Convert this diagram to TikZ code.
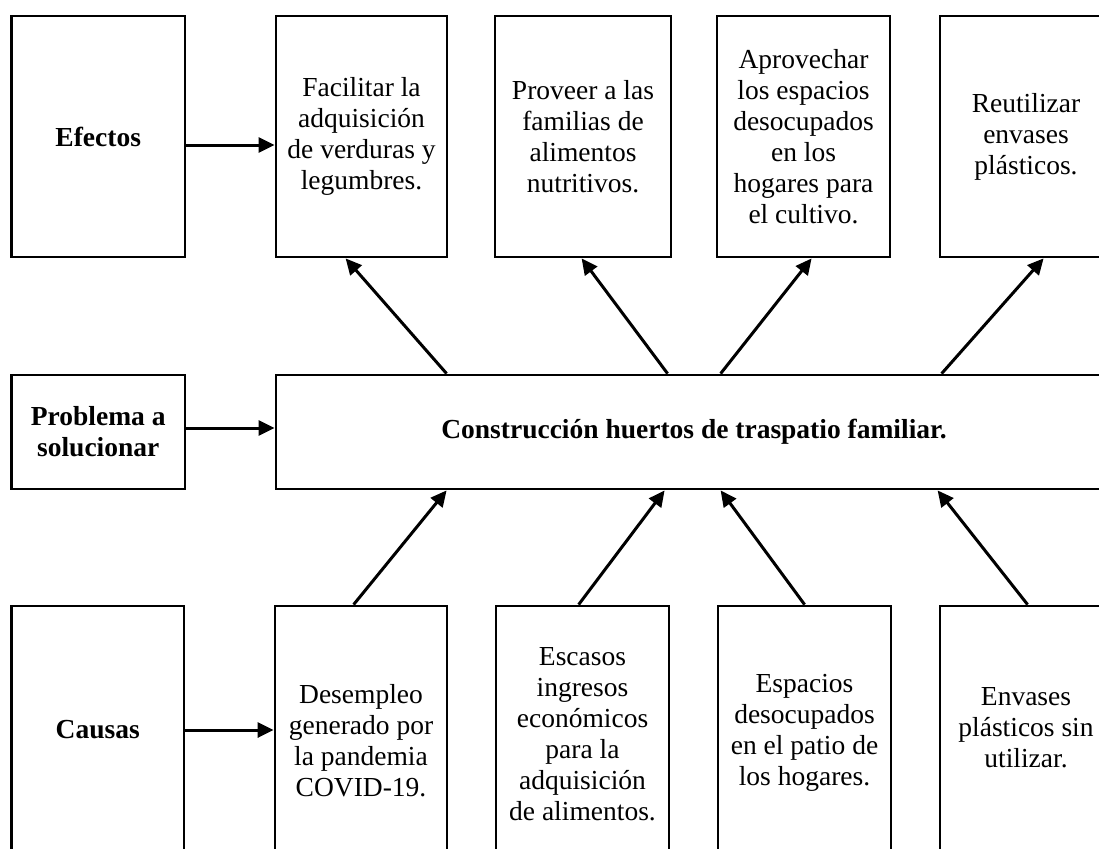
\documentclass[tikz,border=0pt]{standalone}
\usepackage{fontspec}
\setmainfont{Liberation Serif}
\usetikzlibrary{arrows.meta}
\tikzset{
  box/.style={draw=black, line width=2.8pt, fill=white, inner sep=0pt, align=center,
    font=\fontsize{27.5}{31}\selectfont},
  hbox/.style={box, font=\fontsize{27.5}{31}\selectfont\bfseries},
  arr/.style={line width=3pt, -{Triangle[length=16pt,width=15pt]}}
}
\begin{document}
\begin{tikzpicture}[x=1pt,y=-1pt]
\useasboundingbox (0,0) rectangle (1099,848);
\clip (0,0) rectangle (1099,848);
\fill[white] (0,0) rectangle (1099,848);
% top row
\node[hbox, minimum width=173.5pt, minimum height=241pt] (efe) at (98.25,136.5) {Efectos};
\node[box, minimum width=171pt, minimum height=241pt] (fac) at (361.5,136.5) {Facilitar la\\adquisición\\de verduras y\\legumbres.};
\node[box, minimum width=176pt, minimum height=241pt] (pro) at (583,136.5) {Proveer a las\\familias de\\alimentos\\nutritivos.};
\node[box, minimum width=173pt, minimum height=241pt] (apr) at (803.5,136.5) {Aprovechar\\los espacios\\desocupados\\en los\\hogares para\\el cultivo.};
\node[box, minimum width=172pt, minimum height=241pt] (reu) at (1026,136.5) {Reutilizar\\envases\\plásticos.};
% middle row
\node[hbox, minimum width=173.5pt, minimum height=114pt] (prob) at (98.25,432) {Problema a\\solucionar};
\node[hbox, minimum width=836pt, minimum height=114pt] (main) at (694,432) {Construcción huertos de traspatio familiar.};
% bottom row
\node[hbox, minimum width=172.5pt, minimum height=248pt] (cau) at (97.75,730) {Causas};
\node[box, minimum width=172pt, minimum height=270pt] (des) at (361,741) {Desempleo\\generado por\\la pandemia\\COVID-19.};
\node[box, minimum width=173pt, minimum height=256pt] (esc) at (582.5,734) {Escasos\\ingresos\\económicos\\para la\\adquisición\\de alimentos.};
\node[box, minimum width=173pt, minimum height=254pt] (esp) at (804.5,733) {Espacios\\desocupados\\en el patio de\\los hogares.};
\node[box, minimum width=172pt, minimum height=244pt] (env) at (1026,728) {Envases\\plásticos sin\\utilizar.};
% horizontal arrows
\draw[arr] ([yshift=-8.5pt]efe.east) -- ([yshift=-8.5pt]efe.east -| fac.west);
\draw[arr] ([yshift=4pt]prob.east) -- ([yshift=4pt]prob.east -| main.west);
\draw[arr] (cau.east) -- (cau.east -| des.west);
% effects arrows
\draw[arr] ([xshift=172pt]main.north west) -- ([xshift=71pt]fac.south west);
\draw[arr] ([xshift=393pt]main.north west) -- ([xshift=88pt]pro.south west);
\draw[arr] ([xshift=446pt]main.north west) -- ([xshift=96pt]apr.south west);
\draw[arr] ([xshift=667pt]main.north west) -- ([xshift=105pt]reu.south west);
% cause arrows
\draw[arr] ([xshift=80pt]des.north west) -- ([xshift=172pt]main.south west);
\draw[arr] ([xshift=84pt]esc.north west) -- ([xshift=390pt]main.south west);
\draw[arr] ([xshift=88pt]esp.north west) -- ([xshift=446pt]main.south west);
\draw[arr] ([xshift=89pt]env.north west) -- ([xshift=663pt]main.south west);
\end{tikzpicture}
\end{document}
